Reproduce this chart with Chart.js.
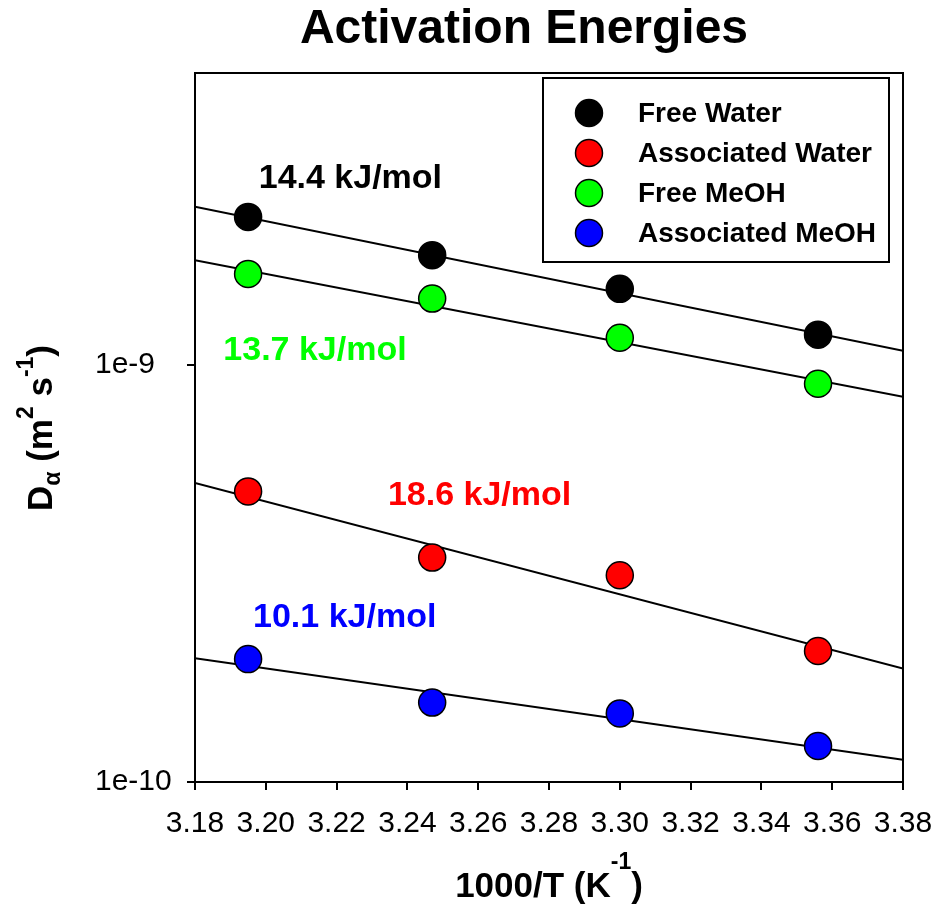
<!DOCTYPE html>
<html lang="en">
<head>
<meta charset="UTF-8" />
<title>Activation Energies</title>
<script src="https://cdn.jsdelivr.net/npm/chart.js"></script>
<style>
  html, body { margin: 0; padding: 0; background: #fff; }
</style>
</head>
<body>
<canvas id="energyChart" width="949" height="904"></canvas>
<script>
  // 1000/T (K^-1) for the four temperatures
  var invT = [3.195, 3.247, 3.300, 3.356];

  // diffusion coefficients, m^2/s
  var freeWater = [2.26e-9, 1.83e-9, 1.52e-9, 1.18e-9];
  var assocWater = [4.97e-10, 3.45e-10, 3.13e-10, 2.06e-10];
  var freeMeOH = [1.65e-9, 1.44e-9, 1.16e-9, 9.0e-10];
  var assocMeOH = [1.97e-10, 1.55e-10, 1.46e-10, 1.22e-10];

  // Arrhenius fit lines, values at both ends of the x axis
  var fitX = [3.18, 3.38];
  var fitFreeWater = [2.39e-9, 1.08e-9];
  var fitAssocWater = [5.21e-10, 1.87e-10];
  var fitFreeMeOH = [1.78e-9, 8.38e-10];
  var fitAssocMeOH = [1.98e-10, 1.13e-10];

  var seriesNames = ["Free Water", "Associated Water", "Free MeOH", "Associated MeOH"];
  var energies = ["14.4 kJ/mol", "18.6 kJ/mol", "13.7 kJ/mol", "10.1 kJ/mol"];
  var yTickValues = [1e-10, 1e-9];

  var FONT = "Arial, 'Liberation Sans', sans-serif";
  var colors = ["#000000", "#ff0000", "#00ff00", "#0000ff"];

  function toPoints(xs, ys) {
    return xs.map(function (x, i) { return { x: x, y: ys[i] }; });
  }

  var datasets = [];
  [freeWater, assocWater, freeMeOH, assocMeOH].forEach(function (ys, i) {
    datasets.push({
      label: seriesNames[i],
      data: toPoints(invT, ys),
      backgroundColor: colors[i],
      borderColor: "#000",
      borderWidth: 1.5,
      pointRadius: 13.5,
      pointHoverRadius: 13.5,
      showLine: false,
      order: 0
    });
  });
  [fitFreeWater, fitAssocWater, fitFreeMeOH, fitAssocMeOH].forEach(function (ys) {
    datasets.push({
      label: "fit",
      type: "line",
      data: toPoints(fitX, ys),
      borderColor: "#000",
      borderWidth: 2,
      pointRadius: 0,
      fill: false,
      order: 1
    });
  });

  // text with sub/superscripts, centred on x, baseline y
  function drawRich(ctx, parts, x, y) {
    var w = 0;
    parts.forEach(function (p) { ctx.font = p.font; w += ctx.measureText(p.text).width; });
    var cx = x - w / 2;
    ctx.textAlign = "left";
    ctx.textBaseline = "alphabetic";
    parts.forEach(function (p) {
      ctx.font = p.font;
      ctx.fillText(p.text, cx, y + (p.dy || 0));
      cx += ctx.measureText(p.text).width;
    });
  }

  var decorations = {
    id: "decorations",
    afterDraw: function (chart) {
      var ctx = chart.ctx;
      var a = chart.chartArea;
      var xs = chart.scales.x, ys = chart.scales.y;
      ctx.save();
      ctx.fillStyle = "#000";

      // top and right sides of the frame
      ctx.strokeStyle = "#000";
      ctx.lineWidth = 2;
      ctx.beginPath();
      ctx.moveTo(a.left, a.top);
      ctx.lineTo(a.right, a.top);
      ctx.lineTo(a.right, a.bottom);
      ctx.stroke();

      // title
      ctx.font = "bold 48px " + FONT;
      ctx.textAlign = "center";
      ctx.textBaseline = "alphabetic";
      ctx.fillText("Activation Energies", 524, 43);

      // x axis title
      var big = "bold 35px " + FONT, small = "bold 23px " + FONT;
      drawRich(ctx, [
        { text: "1000/T (K", font: big },
        { text: "-1", font: small, dy: -28 },
        { text: ")", font: big }
      ], (a.left + a.right) / 2, 897);

      // y axis title
      ctx.save();
      ctx.translate(52, 428);
      ctx.rotate(-Math.PI / 2);
      drawRich(ctx, [
        { text: "D", font: big },
        { text: "\u03b1", font: small, dy: 8 },
        { text: " (m", font: big },
        { text: "2", font: small, dy: -19 },
        { text: " s", font: big },
        { text: "-1", font: small, dy: -19 },
        { text: ")", font: big }
      ], 0, 0);
      ctx.restore();

      // activation energy labels, placed in data units
      var spots = [[3.198, 2.79e-9], [3.2345, 4.86e-10], [3.188, 1.08e-9], [3.1964, 2.48e-10]];
      ctx.font = "bold 34px " + FONT;
      ctx.textAlign = "left";
      ctx.textBaseline = "middle";
      energies.forEach(function (t, i) {
        ctx.fillStyle = colors[i];
        ctx.fillText(t, xs.getPixelForValue(spots[i][0]), ys.getPixelForValue(spots[i][1]));
      });

      // legend box
      var bx = 543, by = 78, bw = 346, bh = 184;
      ctx.fillStyle = "#fff";
      ctx.fillRect(bx, by, bw, bh);
      ctx.strokeStyle = "#000";
      ctx.lineWidth = 2;
      ctx.strokeRect(bx, by, bw, bh);
      ctx.font = "bold 28px " + FONT;
      ctx.textBaseline = "middle";
      chart.data.datasets.slice(0, 4).forEach(function (ds, i) {
        var ry = 113 + i * 40;
        ctx.beginPath();
        ctx.arc(589, ry, 13.5, 0, Math.PI * 2);
        ctx.fillStyle = ds.backgroundColor;
        ctx.fill();
        ctx.lineWidth = 1.5;
        ctx.stroke();
        ctx.fillStyle = "#000";
        ctx.fillText(ds.label, 638, ry + 1);
      });
      ctx.restore();
    }
  };

  var ctxChart = document.getElementById("energyChart").getContext("2d");
  var energyChart = new Chart(ctxChart, {
    type: "scatter",
    data: { datasets: datasets },
    options: {
      responsive: false,
      animation: false,
      layout: { padding: { left: 95, right: 46, top: 73, bottom: 0 } },
      plugins: {
        legend: { display: false },
        tooltip: { enabled: false },
        title: { display: false }
      },
      scales: {
        x: {
          type: "linear",
          min: 3.18,
          max: 3.38,
          ticks: {
            stepSize: 0.02,
            color: "#000",
            font: { family: FONT, size: 30 },
            padding: 16,
            maxRotation: 0,
            autoSkip: false,
            callback: function (v) { return v.toFixed(2); }
          },
          grid: { drawOnChartArea: false, drawTicks: true, tickLength: 8, color: "#000", lineWidth: 2 },
          border: { display: true, color: "#000", width: 2 },
          afterFit: function (scale) {
            scale.height = 122;
            scale.paddingLeft = 0;
            scale.paddingRight = 0;
          }
        },
        y: {
          type: "logarithmic",
          min: 1e-10,
          max: 5e-9,
          ticks: {
            color: "#000",
            font: { family: FONT, size: 30 },
            crossAlign: "far",
            callback: function (v) { return "1e" + Math.round(Math.log10(v)); }
          },
          afterBuildTicks: function (axis) {
            axis.ticks = yTickValues.map(function (v) { return { value: v, major: true }; });
          },
          grid: { drawOnChartArea: false, drawTicks: true, tickLength: 8, color: "#000", lineWidth: 2 },
          border: { display: true, color: "#000", width: 2 },
          afterFit: function (scale) {
            scale.width = 100;
            scale.paddingTop = 0;
            scale.paddingBottom = 0;
          }
        }
      }
    },
    plugins: [decorations]
  });
</script>
</body>
</html>
